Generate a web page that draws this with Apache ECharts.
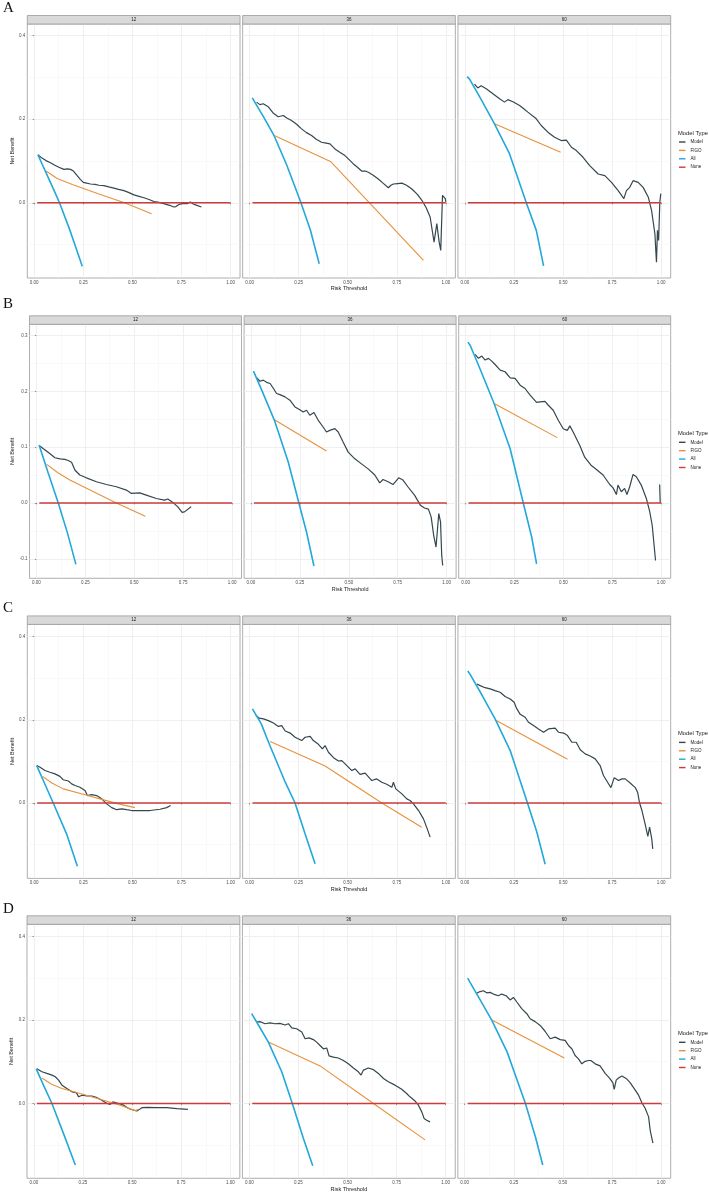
<!DOCTYPE html>
<html>
<head>
<meta charset="UTF-8" />
<title>Decision curves</title>
<script src="https://cdn.jsdelivr.net/npm/echarts@6/dist/echarts.min.js"></script>
<style>
  body { margin: 0; padding: 0; background: #fff; }
  #main { width: 709px; height: 1193px; }
</style>
</head>
<body>
<div id="main"></div>
<script>
// ---------- data ----------
var panels = ["A", "B", "C", "D"];
var horizons = ["12", "36", "60"];
var modelTypes = ["Model", "FIGO", "All", "None"];
var xMajor = [0, 0.25, 0.5, 0.75, 1];
var xMinor = [0.125, 0.375, 0.625, 0.875];
var yMajorWide = [0, 0.2, 0.4];
var yMinorWide = [-0.1, 0.1, 0.3];
var yMajorB = [-0.1, 0, 0.1, 0.2, 0.3];
var yMinorB = [-0.05, 0.05, 0.15, 0.25];
var yMin = [-0.18, -0.135, -0.181, -0.179];
var yMax = [0.428, 0.32, 0.429, 0.429];

var noneLine = [[0.015, 0], [1, 0]];

// panel A
var aModel12 = [[0.019,0.115],[0.04,0.107],[0.06,0.101],[0.083,0.096],[0.105,0.09],[0.126,0.085],[0.151,0.08],[0.17,0.081],[0.185,0.08],[0.2,0.076],[0.219,0.065],[0.235,0.056],[0.25,0.049],[0.268,0.047],[0.287,0.045],[0.31,0.044],[0.33,0.042],[0.355,0.041],[0.38,0.038],[0.406,0.035],[0.43,0.032],[0.457,0.029],[0.48,0.025],[0.508,0.019],[0.53,0.016],[0.559,0.012],[0.585,0.008],[0.61,0.003],[0.635,0.001],[0.66,-0.002],[0.69,-0.006],[0.711,-0.01],[0.722,-0.009],[0.737,-0.004],[0.755,-0.002],[0.779,-0.002],[0.796,0.002],[0.81,-0.003],[0.822,-0.005],[0.852,-0.01]];
var aFigo12 = [[0.061,0.076],[0.117,0.058],[0.194,0.044],[0.33,0.021],[0.46,0],[0.598,-0.026]];
var aAll12 = [[0.019,0.115],[0.07,0.062],[0.1,0.031],[0.129,0],[0.18,-0.063],[0.21,-0.104],[0.245,-0.152]];

var aModel36 = [[0.036,0.241],[0.053,0.235],[0.07,0.237],[0.095,0.23],[0.12,0.215],[0.146,0.206],[0.172,0.209],[0.19,0.203],[0.214,0.197],[0.24,0.188],[0.265,0.177],[0.29,0.168],[0.316,0.161],[0.34,0.152],[0.367,0.145],[0.39,0.143],[0.41,0.141],[0.435,0.129],[0.46,0.121],[0.486,0.113],[0.51,0.102],[0.529,0.093],[0.55,0.085],[0.571,0.076],[0.59,0.076],[0.605,0.073],[0.63,0.066],[0.656,0.057],[0.68,0.047],[0.707,0.036],[0.72,0.042],[0.733,0.045],[0.755,0.046],[0.776,0.047],[0.8,0.042],[0.827,0.033],[0.855,0.02],[0.878,0.006],[0.9,-0.012],[0.92,-0.034],[0.94,-0.094],[0.954,-0.05],[0.966,-0.094],[0.974,-0.114],[0.983,0.018],[0.997,0.01],[1,0.002]];
var aFigo36 = [[0.126,0.161],[0.415,0.098],[0.886,-0.138]];
var aAll36 = [[0.014,0.251],[0.07,0.207],[0.126,0.16],[0.19,0.09],[0.23,0.04],[0.262,0],[0.31,-0.065],[0.355,-0.146]];

var aModel60 = [[0.049,0.284],[0.066,0.275],[0.083,0.28],[0.109,0.273],[0.143,0.261],[0.177,0.249],[0.202,0.241],[0.219,0.247],[0.245,0.242],[0.279,0.233],[0.3,0.225],[0.321,0.217],[0.364,0.201],[0.389,0.185],[0.423,0.169],[0.457,0.157],[0.491,0.149],[0.517,0.15],[0.543,0.133],[0.568,0.125],[0.602,0.109],[0.636,0.089],[0.679,0.069],[0.713,0.065],[0.747,0.049],[0.781,0.029],[0.81,0.01],[0.823,0.029],[0.84,0.037],[0.857,0.053],[0.883,0.049],[0.908,0.037],[0.934,0.014],[0.951,-0.018],[0.968,-0.074],[0.976,-0.142],[0.981,-0.066],[0.987,-0.09],[0.993,0.002],[0.998,0.022]];
var aFigo60 = [[0.151,0.189],[0.488,0.121]];
var aAll60 = [[0.012,0.302],[0.024,0.296],[0.08,0.25],[0.151,0.189],[0.228,0.117],[0.313,0],[0.364,-0.066],[0.401,-0.151]];

// panel B
var bModel12 = [[0.014,0.103],[0.036,0.097],[0.07,0.088],[0.095,0.081],[0.121,0.079],[0.146,0.078],[0.163,0.076],[0.171,0.079],[0.18,0.073],[0.197,0.059],[0.222,0.05],[0.256,0.045],[0.307,0.038],[0.358,0.033],[0.409,0.029],[0.46,0.023],[0.486,0.017],[0.528,0.018],[0.562,0.014],[0.613,0.008],[0.655,0.005],[0.672,0.007],[0.698,0.001],[0.723,-0.007],[0.745,-0.017],[0.757,-0.016],[0.766,-0.013],[0.791,-0.007]];
var bFigo12 = [[0.053,0.069],[0.11,0.054],[0.171,0.041],[0.409,0],[0.557,-0.024]];
var bAll12 = [[0.014,0.104],[0.061,0.053],[0.112,0],[0.16,-0.055],[0.202,-0.11]];

var bModel36 = [[0.03,0.224],[0.046,0.218],[0.063,0.22],[0.08,0.216],[0.098,0.214],[0.115,0.205],[0.131,0.196],[0.148,0.194],[0.174,0.19],[0.199,0.184],[0.225,0.172],[0.25,0.167],[0.267,0.163],[0.284,0.166],[0.301,0.157],[0.322,0.162],[0.344,0.148],[0.369,0.136],[0.386,0.127],[0.403,0.13],[0.429,0.133],[0.446,0.127],[0.471,0.109],[0.497,0.091],[0.531,0.079],[0.565,0.07],[0.599,0.061],[0.633,0.05],[0.658,0.036],[0.675,0.042],[0.701,0.038],[0.726,0.033],[0.755,0.045],[0.777,0.041],[0.802,0.029],[0.836,0.014],[0.866,-0.004],[0.887,-0.009],[0.907,-0.011],[0.921,-0.025],[0.934,-0.058],[0.946,-0.079],[0.96,-0.019],[0.969,-0.034],[0.975,-0.094],[0.98,-0.112]];
var bFigo36 = [[0.12,0.149],[0.386,0.093]];
var bAll36 = [[0.013,0.236],[0.06,0.198],[0.12,0.148],[0.191,0.073],[0.245,0],[0.284,-0.052],[0.322,-0.113]];

var bModel60 = [[0.049,0.266],[0.066,0.259],[0.083,0.263],[0.1,0.256],[0.117,0.259],[0.134,0.254],[0.151,0.248],[0.177,0.238],[0.202,0.235],[0.228,0.224],[0.253,0.223],[0.279,0.211],[0.304,0.205],[0.33,0.193],[0.363,0.18],[0.38,0.181],[0.406,0.182],[0.423,0.175],[0.448,0.166],[0.474,0.148],[0.499,0.133],[0.52,0.13],[0.533,0.138],[0.55,0.127],[0.584,0.103],[0.609,0.082],[0.643,0.067],[0.669,0.06],[0.703,0.05],[0.737,0.033],[0.754,0.027],[0.771,0.015],[0.779,0.032],[0.796,0.02],[0.813,0.026],[0.825,0.015],[0.839,0.029],[0.856,0.051],[0.873,0.047],[0.898,0.032],[0.924,0.008],[0.941,-0.015],[0.954,-0.04],[0.971,-0.103],[0.98,null],[0.992,0.033],[0.995,0]];
var bFigo60 = [[0.146,0.178],[0.469,0.117]];
var bAll60 = [[0.012,0.288],[0.024,0.282],[0.08,0.235],[0.146,0.178],[0.228,0.097],[0.295,0],[0.338,-0.061],[0.363,-0.109]];

// panel C
var cModel12 = [[0.013,0.09],[0.03,0.086],[0.055,0.078],[0.08,0.074],[0.106,0.07],[0.131,0.064],[0.148,0.056],[0.174,0.053],[0.191,0.046],[0.208,0.042],[0.233,0.038],[0.259,0.03],[0.271,0.018],[0.293,0.02],[0.318,0.018],[0.344,0.01],[0.369,-0.002],[0.395,-0.011],[0.42,-0.016],[0.446,-0.014],[0.471,-0.016],[0.497,-0.018],[0.539,-0.018],[0.59,-0.018],[0.641,-0.015],[0.675,-0.011],[0.695,-0.006]];
var cFigo12 = [[0.043,0.064],[0.09,0.048],[0.148,0.034],[0.25,0.021],[0.335,0.01],[0.429,-0.002],[0.513,-0.011]];
var cAll12 = [[0.013,0.09],[0.055,0.045],[0.097,0],[0.165,-0.074],[0.22,-0.152]];

var cModel36 = [[0.032,0.21],[0.049,0.204],[0.071,0.202],[0.096,0.198],[0.122,0.192],[0.147,0.184],[0.164,0.186],[0.182,0.173],[0.207,0.168],[0.232,0.158],[0.266,0.15],[0.283,0.158],[0.309,0.16],[0.325,0.15],[0.351,0.141],[0.371,0.13],[0.385,0.138],[0.402,0.122],[0.428,0.109],[0.453,0.101],[0.47,0.102],[0.496,0.09],[0.521,0.078],[0.538,0.082],[0.563,0.069],[0.589,0.072],[0.623,0.054],[0.648,0.058],[0.674,0.05],[0.699,0.045],[0.725,0.038],[0.733,0.05],[0.745,0.034],[0.776,0.022],[0.801,0.01],[0.818,0.006],[0.835,-0.002],[0.861,-0.018],[0.886,-0.038],[0.903,-0.059],[0.92,-0.082]];
var cFigo36 = [[0.105,0.148],[0.385,0.089],[0.674,0],[0.877,-0.058]];
var cAll36 = [[0.015,0.226],[0.06,0.19],[0.097,0.146],[0.182,0.05],[0.232,0],[0.283,-0.074],[0.334,-0.146]];

var cModel60 = [[0.061,0.286],[0.078,0.282],[0.103,0.277],[0.129,0.274],[0.154,0.27],[0.18,0.266],[0.205,0.256],[0.231,0.25],[0.251,0.242],[0.265,0.226],[0.282,0.213],[0.307,0.206],[0.324,0.194],[0.35,0.186],[0.375,0.178],[0.401,0.17],[0.426,0.178],[0.46,0.18],[0.477,0.17],[0.503,0.168],[0.523,0.162],[0.545,0.146],[0.567,0.146],[0.588,0.128],[0.613,0.118],[0.638,0.113],[0.664,0.106],[0.689,0.09],[0.706,0.066],[0.727,0.05],[0.744,0.037],[0.761,0.061],[0.783,0.054],[0.8,0.058],[0.817,0.058],[0.842,0.048],[0.868,0.037],[0.88,0.026],[0.89,0],[0.902,-0.018],[0.918,-0.05],[0.932,-0.08],[0.941,-0.058],[0.952,-0.086],[0.957,-0.11]];
var cFigo60 = [[0.16,0.198],[0.523,0.105]];
var cAll60 = [[0.015,0.317],[0.027,0.309],[0.09,0.257],[0.154,0.202],[0.231,0.126],[0.319,0],[0.367,-0.07],[0.409,-0.147]];

// panel D
var dModel12 = [[0.015,0.083],[0.041,0.076],[0.066,0.072],[0.092,0.068],[0.109,0.064],[0.126,0.056],[0.143,0.044],[0.168,0.036],[0.194,0.028],[0.216,0.026],[0.228,0.016],[0.245,0.02],[0.27,0.018],[0.295,0.018],[0.321,0.014],[0.346,0.008],[0.372,0],[0.389,-0.002],[0.402,0.004],[0.431,0],[0.457,-0.004],[0.482,-0.012],[0.508,-0.016],[0.525,-0.018],[0.538,-0.014],[0.55,-0.01],[0.576,-0.009],[0.626,-0.01],[0.677,-0.01],[0.728,-0.012],[0.784,-0.014]];
var dFigo12 = [[0.041,0.061],[0.09,0.046],[0.143,0.036],[0.236,0.024],[0.355,0.008],[0.44,-0.004],[0.516,-0.017],[0.533,-0.014]];
var dAll12 = [[0.012,0.083],[0.05,0.043],[0.092,0],[0.151,-0.072],[0.211,-0.147]];

var dModel36 = [[0.037,0.195],[0.054,0.196],[0.08,0.191],[0.105,0.193],[0.131,0.191],[0.156,0.192],[0.182,0.188],[0.199,0.191],[0.216,0.181],[0.241,0.179],[0.267,0.171],[0.284,0.155],[0.304,0.157],[0.326,0.153],[0.343,0.147],[0.36,0.139],[0.377,0.131],[0.394,0.133],[0.406,0.114],[0.428,0.111],[0.453,0.109],[0.479,0.103],[0.504,0.095],[0.53,0.085],[0.555,0.076],[0.569,0.068],[0.581,0.08],[0.606,0.085],[0.632,0.081],[0.657,0.072],[0.683,0.06],[0.708,0.052],[0.742,0.044],[0.776,0.034],[0.801,0.024],[0.818,0.016],[0.844,0.006],[0.861,-0.004],[0.878,-0.02],[0.89,-0.036],[0.903,-0.04],[0.92,-0.044]];
var dFigo36 = [[0.097,0.147],[0.36,0.09],[0.632,0],[0.895,-0.087]];
var dAll36 = [[0.012,0.215],[0.05,0.185],[0.097,0.147],[0.165,0.076],[0.219,0],[0.275,-0.083],[0.323,-0.149]];

var dModel60 = [[0.061,0.264],[0.078,0.268],[0.095,0.27],[0.112,0.265],[0.129,0.266],[0.146,0.262],[0.171,0.258],[0.188,0.262],[0.211,0.258],[0.231,0.248],[0.248,0.254],[0.265,0.243],[0.29,0.227],[0.316,0.215],[0.333,0.203],[0.358,0.196],[0.384,0.187],[0.409,0.173],[0.435,0.155],[0.46,0.159],[0.486,0.153],[0.511,0.151],[0.528,0.139],[0.545,0.131],[0.562,0.115],[0.579,0.107],[0.596,0.095],[0.613,0.101],[0.63,0.103],[0.642,0.103],[0.664,0.095],[0.689,0.09],[0.715,0.072],[0.737,0.061],[0.754,0.05],[0.761,0.034],[0.771,0.056],[0.783,0.061],[0.8,0.066],[0.822,0.06],[0.842,0.05],[0.868,0.032],[0.885,0.02],[0.902,0.002],[0.919,-0.012],[0.936,-0.032],[0.944,-0.064],[0.958,-0.095]];
var dFigo60 = [[0.138,0.2],[0.507,0.109]];
var dAll60 = [[0.015,0.3],[0.027,0.29],[0.08,0.247],[0.138,0.199],[0.216,0.123],[0.309,0],[0.36,-0.08],[0.397,-0.147]];

var curves = [
  [[aModel12, aFigo12, aAll12], [aModel36, aFigo36, aAll36], [aModel60, aFigo60, aAll60]],
  [[bModel12, bFigo12, bAll12], [bModel36, bFigo36, bAll36], [bModel60, bFigo60, bAll60]],
  [[cModel12, cFigo12, cAll12], [cModel36, cFigo36, cAll36], [cModel60, cFigo60, cAll60]],
  [[dModel12, dFigo12, dAll12], [dModel36, dFigo36, dAll36], [dModel60, dFigo60, dAll60]]
];

// ---------- layout ----------
var font = "Liberation Sans";
var lineColors = ["#34474e", "#e8913a", "#22a8d9", "#cd3b3b"];
var lineWidths = [1.2, 1.1, 1.6, 1.5];
var rowTop = [24, 324.3, 624.4, 924.3];
var rowLeft = [27.3, 29.5, 27.3, 27];
var letterY = [8.3, 303.7, 608.3, 908.8];
var plotRight = 670.7;
var gap = 2.6;
var plotH = 254;
var stripH = 8.5;
var xLo = -0.035, xHi = 1.0485;

var grids = [], xAxes = [], yAxes = [], series = [], graphics = [], legends = [];
var minorX = [], minorY = [];

panels.forEach(function (p, r) {
  var w = (plotRight - rowLeft[r] - 2 * gap) / 3;
  var yMaj = r === 1 ? yMajorB : yMajorWide;
  var yMin2 = r === 1 ? yMinorB : yMinorWide;
  horizons.forEach(function (h, c) {
    var idx = r * 3 + c;
    var left = rowLeft[r] + c * (w + gap);
    grids.push({
      left: left, top: rowTop[r], width: w, height: plotH,
      show: true, borderColor: "#9a9a9a", borderWidth: 0.8,
      backgroundColor: "#fff", containLabel: false, outerBoundsMode: "none"
    });
    xAxes.push({
      type: "value", gridIndex: idx, min: xLo, max: xHi,
      axisLine: { show: false },
      axisTick: { show: true, customValues: xMajor, length: 1.5, lineStyle: { color: "#555", width: 0.6 } },
      axisLabel: {
        customValues: xMajor, margin: 2, fontSize: 4.5, color: "#4d4d4d", fontFamily: font,
        formatter: function (v) { return v.toFixed(2); }
      },
      splitLine: { show: true, lineStyle: { color: "#ebebeb", width: 0.8 } },
      name: c === 1 ? "Risk Threshold" : "",
      nameLocation: "middle", nameGap: 6,
      nameTextStyle: { fontSize: 5.5, color: "#1a1a1a", fontFamily: font }
    });
    minorX.push({
      type: "value", gridIndex: idx, min: xLo, max: xHi, position: "top",
      axisLine: { show: false }, axisLabel: { show: false, customValues: xMinor },
      axisTick: { show: false, customValues: xMinor },
      splitLine: { show: true, lineStyle: { color: "#f3f3f3", width: 0.5 } }
    });
    yAxes.push({
      type: "value", gridIndex: idx, min: yMin[r], max: yMax[r],
      axisLine: { show: false },
      axisTick: { show: c === 0, customValues: yMaj, length: 1.5, lineStyle: { color: "#555", width: 0.6 } },
      axisLabel: {
        show: c === 0, customValues: yMaj, margin: 2, fontSize: 4.5, color: "#4d4d4d", fontFamily: font,
        formatter: function (v) { return v.toFixed(1); }
      },
      splitLine: { show: true, lineStyle: { color: "#ebebeb", width: 0.8 } },
      name: c === 0 ? "Net Benefit" : "",
      nameLocation: "middle", nameGap: 10, nameRotate: 90,
      nameTextStyle: { fontSize: 5.5, color: "#1a1a1a", fontFamily: font }
    });
    minorY.push({
      type: "value", gridIndex: idx, min: yMin[r], max: yMax[r], position: "right",
      axisLine: { show: false }, axisLabel: { show: false, customValues: yMin2 },
      axisTick: { show: false, customValues: yMin2 },
      splitLine: { show: true, lineStyle: { color: "#f3f3f3", width: 0.5 } }
    });

    var sets = curves[r][c].concat([noneLine]);
    modelTypes.forEach(function (m, k) {
      series.push({
        type: "line", name: m, xAxisIndex: idx, yAxisIndex: idx,
        data: sets[k], showSymbol: false, symbol: "none", connectNulls: false,
        lineStyle: { color: lineColors[k], width: lineWidths[k] },
        itemStyle: { color: lineColors[k] }, z: 2 + k, animation: false
      });
    });

    // facet strip
    graphics.push({
      type: "rect", silent: true, z: 10,
      shape: { x: left, y: rowTop[r] - stripH, width: w, height: stripH },
      style: { fill: "#d9d9d9", stroke: "#9a9a9a", lineWidth: 0.8 }
    });
    graphics.push({
      type: "text", silent: true, z: 11,
      x: left + w / 2, y: rowTop[r] - stripH / 2,
      style: { text: h, fontSize: 4.5, fontFamily: font, fill: "#1a1a1a", align: "center", verticalAlign: "middle" }
    });
  });

  // panel letter
  graphics.push({
    type: "text", silent: true, z: 11,
    x: 3, y: letterY[r],
    style: { text: p, fontSize: 15, fontFamily: "Liberation Serif", fill: "#111", align: "left", verticalAlign: "middle" }
  });
  // legend title
  graphics.push({
    type: "text", silent: true, z: 11,
    x: 678, y: rowTop[r] + 109,
    style: { text: "Model Type", fontSize: 5.8, fontFamily: font, fill: "#1a1a1a", align: "left", verticalAlign: "middle" }
  });
  legends.push({
    data: modelTypes, orient: "vertical", left: 679, top: rowTop[r] + 115,
    padding: 0, itemWidth: 6.5, itemHeight: 1.4, itemGap: 2.4, icon: "rect",
    selectedMode: false,
    textStyle: { fontSize: 4.5, lineHeight: 6, color: "#1a1a1a", fontFamily: font }
  });
});

var chart = echarts.init(document.getElementById("main"), null, { renderer: "canvas" });
chart.setOption({
  animation: false,
  backgroundColor: "#fff",
  grid: grids,
  xAxis: xAxes.concat(minorX),
  yAxis: yAxes.concat(minorY),
  legend: legends,
  graphic: { elements: graphics },
  series: series
});
</script>
</body>
</html>
